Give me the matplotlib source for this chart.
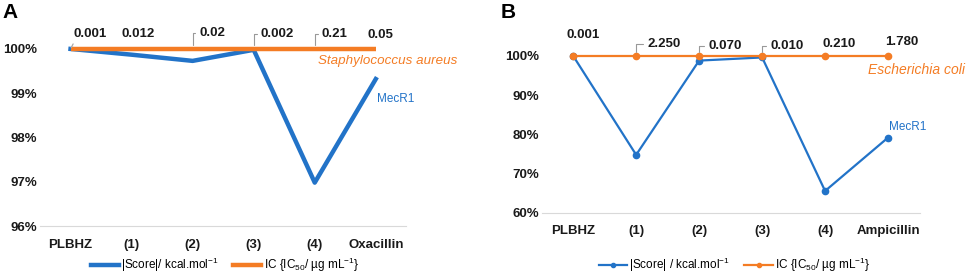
import matplotlib
matplotlib.use("Agg")
import matplotlib.pyplot as plt
from matplotlib.lines import Line2D

plt.rcParams["font.family"] = ["Liberation Sans", "DejaVu Sans"]
plt.rcParams["mathtext.fontset"] = "custom"
plt.rcParams["mathtext.rm"] = "Liberation Sans"
plt.rcParams["mathtext.it"] = "Liberation Sans:italic"

BLUE = "#2273C8"
ORANGE = "#F47C24"
TXT = "#1a1a1a"
FS = 9.5
WT = "bold"

# panel A - Staphylococcus aureus
cats_a = ["PLBHZ", "(1)", "(2)", "(3)", "(4)", "Oxacillin"]
score_a = [100.0, 99.87, 99.73, 99.98, 96.98, 99.32]
ic_a = [100, 100, 100, 100, 100, 100]
ic_labels_a = ["0.001", "0.012", "0.02", "0.002", "0.21", "0.05"]

# panel B - Escherichia coli
cats_b = ["PLBHZ", "(1)", "(2)", "(3)", "(4)", "Ampicillin"]
score_b = [100.0, 74.8, 98.8, 99.6, 65.6, 79.2]
ic_b = [100, 100, 100, 100, 100, 100]
ic_labels_b = ["0.001", "2.250", "0.070", "0.010", "0.210", "1.780"]

fig = plt.figure(figsize=(9.69, 2.78), dpi=100)
ax_a = fig.add_axes([0.0413, 0.187, 0.378, 0.637])
ax_b = fig.add_axes([0.559, 0.234, 0.390, 0.565])


def style_axis(ax, cats, lo, hi, step):
    ax.set_xlim(-0.5, len(cats) - 0.5)
    ax.set_ylim(lo, hi)
    ax.set_xticks(range(len(cats)))
    ax.set_xticklabels(cats, fontsize=FS, color=TXT, fontweight=WT)
    ticks = list(range(lo, hi + 1, step))
    ax.set_yticks(ticks)
    ax.set_yticklabels([f"{t}%" for t in ticks], fontsize=FS, color=TXT, fontweight=WT)
    for s in ["top", "right", "left"]:
        ax.spines[s].set_visible(False)
    ax.spines["bottom"].set_color("#d9d9d9")
    ax.tick_params(length=0)
    ax.tick_params(axis="y", pad=2)
    ax.tick_params(axis="x", pad=9)


def put_label(ax, i, y, lab, dx, dy, kind):
    kw = dict(xy=(i, y), xytext=(dx, dy), textcoords="offset pixels",
              ha="left", va="center", fontsize=FS, color=TXT, fontweight=WT)
    if kind == "brk":
        kw["arrowprops"] = dict(arrowstyle="-", color="#999999", lw=0.8,
                                relpos=(0, 0.5), shrinkA=1, shrinkB=3,
                                connectionstyle="angle,angleA=0,angleB=90,rad=0")
    elif kind == "slant":
        kw["arrowprops"] = dict(arrowstyle="-", color="#aaaaaa", lw=0.9,
                                relpos=(0.05, 0), shrinkA=1, shrinkB=1)
    ax.annotate(lab, **kw)


# ---- A ----
style_axis(ax_a, cats_a, 96, 100, 1)
x = range(len(cats_a))
ax_a.plot(x, ic_a, color=ORANGE, lw=3.2, solid_capstyle="butt", clip_on=False, zorder=3)
ax_a.plot(x, score_a, color=BLUE, lw=3.2, clip_on=False, zorder=2)

# (dx, dy, leader) in pixels from the point
offs_a = [(3, 15, "slant"), (-10, 15, None), (7, 16, "brk"), (7, 15, "brk"),
          (7, 15, "brk"), (-8, 14, None)]
for i, (lab, (dx, dy, kind)) in enumerate(zip(ic_labels_a, offs_a)):
    put_label(ax_a, i, 100, lab, dx, dy, kind)

ax_a.text(0.76, 0.93, "Staphylococcus aureus", transform=ax_a.transAxes,
          color=ORANGE, fontsize=9.6, style="italic", va="center", ha="left")
ax_a.text(0.92, 0.72, "MecR1", transform=ax_a.transAxes,
          color=BLUE, fontsize=8.5, va="center", ha="left")

# ---- B ----
style_axis(ax_b, cats_b, 60, 100, 10)
x = range(len(cats_b))
ax_b.plot(x, ic_b, color=ORANGE, lw=1.6, marker="o", ms=4.5, clip_on=False, zorder=3)
ax_b.plot(x, score_b, color=BLUE, lw=1.6, marker="o", ms=4.5, clip_on=False, zorder=2)

offs_b = [(-7, 21, None), (11, 12, "brk"), (9, 10, "brk"), (8, 10, "brk"),
          (-3, 12, None), (-3, 14, None)]
for i, (lab, (dx, dy, kind)) in enumerate(zip(ic_labels_b, offs_b)):
    put_label(ax_b, i, 100, lab, dx, dy, kind)

ax_b.text(0.864, 0.91, "Escherichia coli", transform=ax_b.transAxes,
          color=ORANGE, fontsize=10, style="italic", va="center", ha="left")
ax_b.text(0.92, 0.55, "MecR1", transform=ax_b.transAxes,
          color=BLUE, fontsize=8.5, va="center", ha="left")

# legends
h_a = [Line2D([], [], color=BLUE, lw=3.2), Line2D([], [], color=ORANGE, lw=3.2)]
fig.legend(h_a, [r"|Score|/ kcal.mol$^{-1}$", r"IC {IC$_{50}$/ µg mL$^{-1}$}"],
           loc="center", bbox_to_anchor=(0.232, 0.047), ncol=2, frameon=False,
           fontsize=8.5, handlelength=2.4, columnspacing=1.2, handletextpad=0.2)
h_b = [Line2D([], [], color=BLUE, lw=1.6, marker="o", ms=3),
       Line2D([], [], color=ORANGE, lw=1.6, marker="o", ms=3)]
fig.legend(h_b, [r"|Score| / kcal.mol$^{-1}$", r"IC {IC$_{50}$/ µg mL$^{-1}$}"],
           loc="center", bbox_to_anchor=(0.758, 0.047), ncol=2, frameon=False,
           fontsize=8.5, handlelength=2.4, columnspacing=1.2, handletextpad=0.2)

fig.text(0.003, 0.955, "A", fontsize=15, fontweight="bold", va="center", ha="left")
fig.text(0.517, 0.955, "B", fontsize=15, fontweight="bold", va="center", ha="left")

fig.savefig("out.png", dpi=100)
plt.close(fig)
